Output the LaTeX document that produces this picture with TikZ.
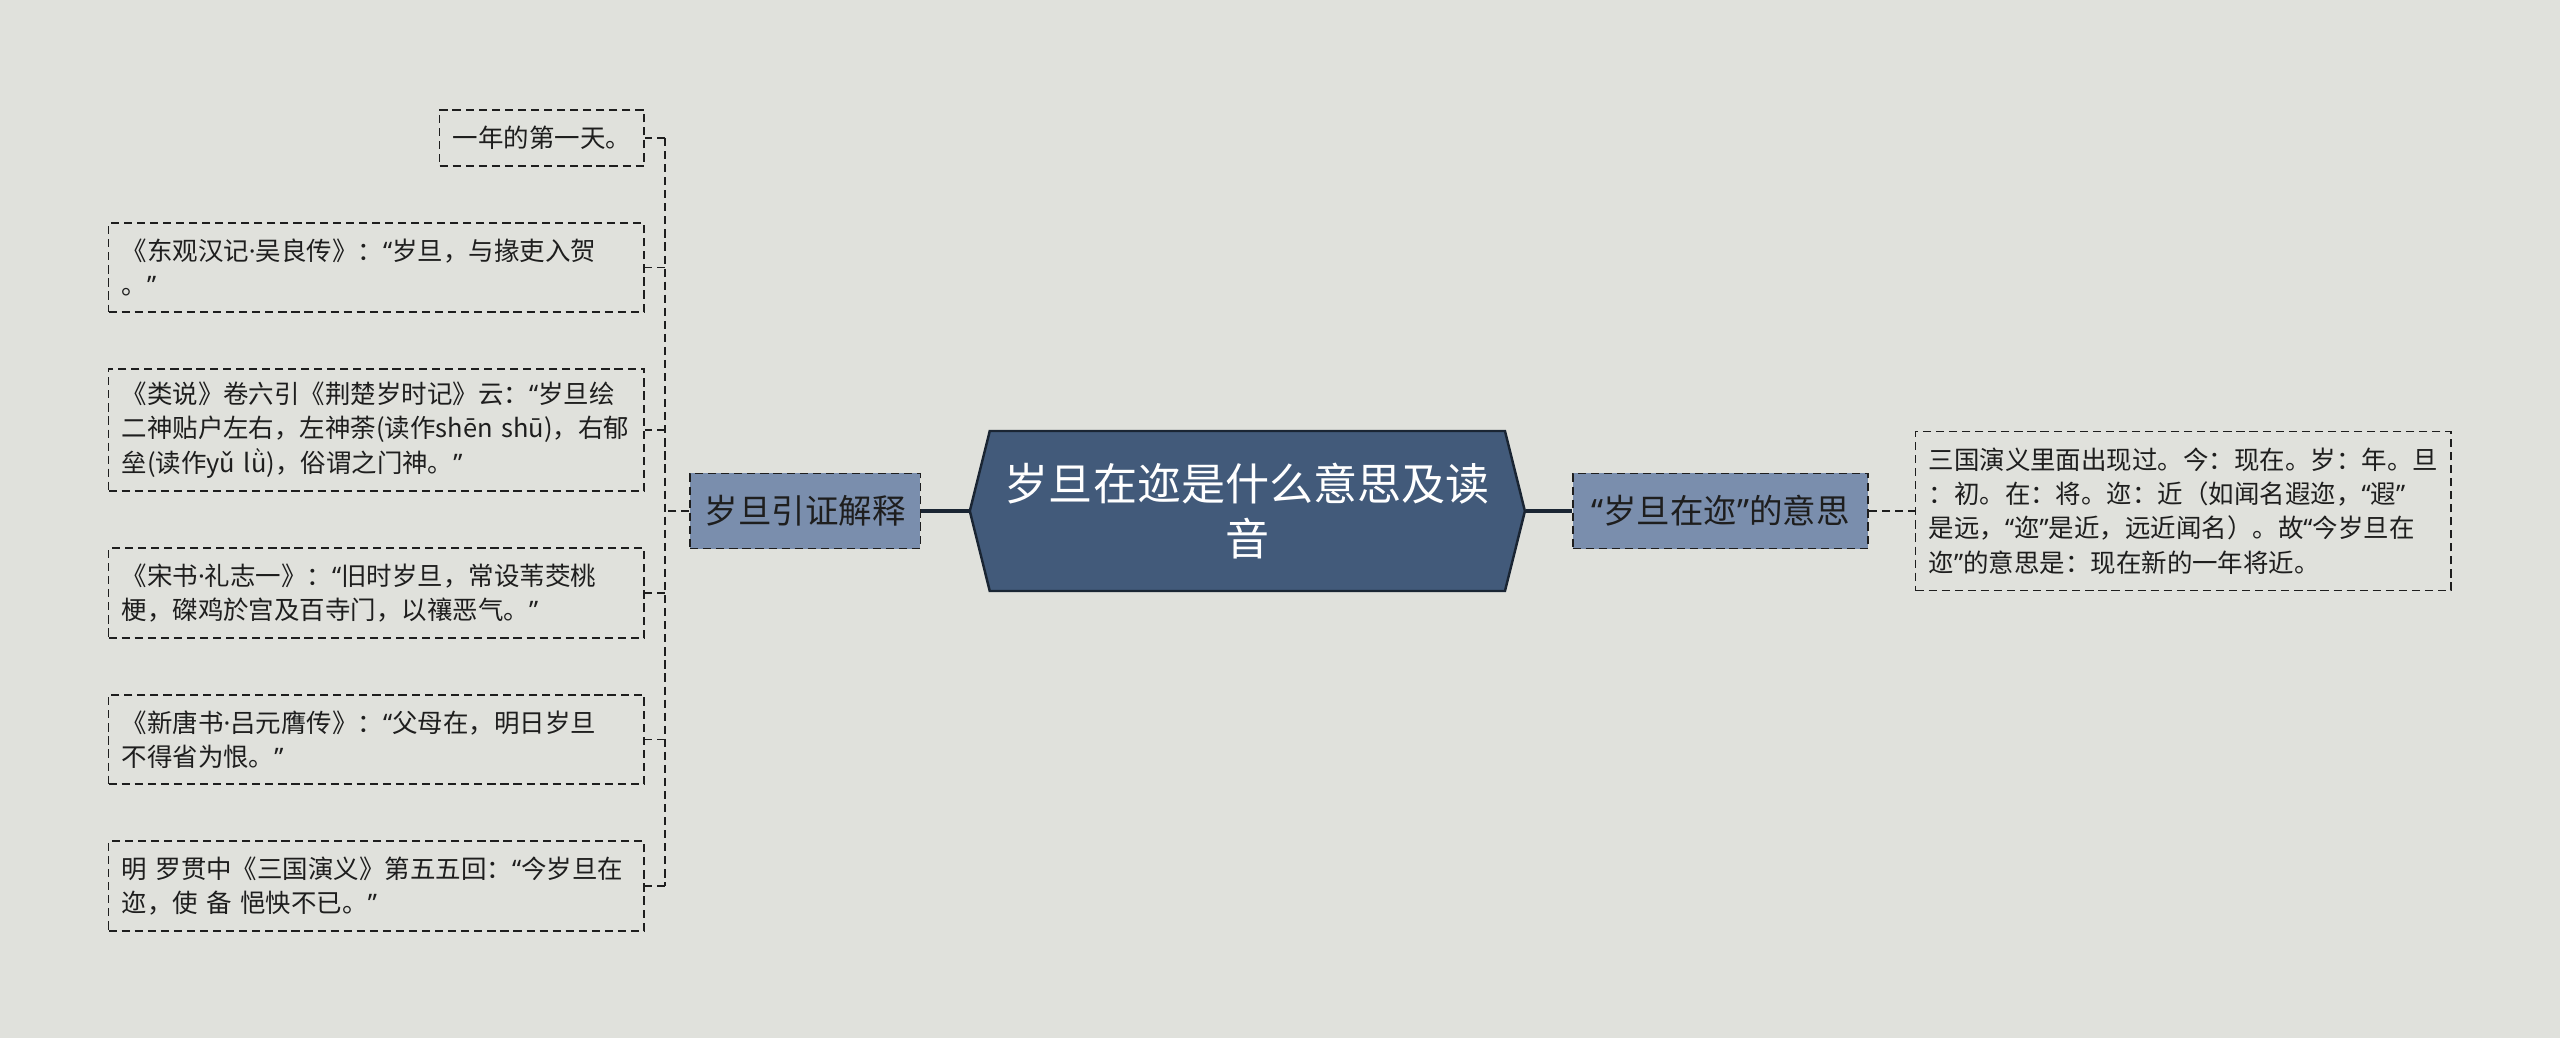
\documentclass[tikz,border=0pt]{standalone}
\usepackage{fontspec}
\setmainfont{Noto Sans CJK SC}
\newfontfamily\latinfont{Noto Sans}
\newcommand{\qo}{{\latinfont “}}
\newcommand{\qc}{{\latinfont ”}}
\newcommand{\mdot}{{\latinfont ·}}
\usepackage{xcolor}
\usetikzlibrary{positioning, shapes.symbols}

\definecolor{bgcol}{HTML}{E0E1DC}
\definecolor{rootfill}{HTML}{425A7A}
\definecolor{rootline}{HTML}{1A2533}
\definecolor{branchfill}{HTML}{7A8EAD}
\definecolor{ink}{HTML}{1E1E1E}

\begin{document}
\begin{tikzpicture}[
      x=1pt, y=-1pt,
      root/.style={signal, signal to=east and west, signal pointer angle=152, draw=rootline, line width=1.5pt, fill=rootfill, text=white, minimum width=340pt, minimum height=98pt, align=center, font=\fontsize{27}{34}\selectfont},
      branch/.style={draw=ink, line width=1pt, dash pattern=on 5pt off 3pt, fill=branchfill, text=ink, inner xsep=4pt, minimum height=46pt, font=\fontsize{20.5}{24}\selectfont},
      leaf/.style={draw=ink, line width=1pt, dash pattern=on 5pt off 3pt, text=ink, align=left, inner xsep=8pt, inner ysep=9.5pt, font=\fontsize{15.6}{21}\selectfont},
      wide/.style={text width=312pt},
      link/.style={draw=ink, line width=1pt, dash pattern=on 5pt off 3pt},
      trunk/.style={draw=rootline, line width=2.5pt}
    ]
    \useasboundingbox (0,0) rectangle (1568,635.8);
    \fill[bgcol] (0,0) rectangle (1568,635.8);

    \node[root] (root) at (764,313) {岁旦在迩是什么意思及读\\音};
    \node[branch, minimum width=141pt, left=29pt of root] (cite) {岁旦引证解释};
    \node[branch, minimum width=181pt, right=28pt of root] (meaning) {\qo 岁旦在迩\qc 的意思};
    \node[leaf, wide, inner ysep=10pt, right=28pt of meaning] (expl) {三国演义里面出现过。今：现在。岁：年。旦\\：初。在：将。迩：近（如闻名遐迩，\qo 遐\qc\\是远，\qo 迩\qc 是近，远近闻名）。故\qo 今岁旦在\\迩\qc 的意思是：现在新的一年将近。};

    \node[leaf, inner ysep=10pt, anchor=east] (firstday) at (395,84.5) {一年的第一天。};
    \node[leaf, wide, below=34pt of firstday.south east, anchor=north east] (dongguan) {《东观汉记\mdot 吴良传》：\qo 岁旦，与掾吏入贺\\。\qc};
    \node[leaf, wide, inner ysep=8pt, below=34pt of dongguan.south east, anchor=north east] (leishuo) {《类说》卷六引《荆楚岁时记》云：\qo 岁旦绘\\二神贴户左右，左神荼(读作shēn shū)，右郁\\垒(读作yǔ lǜ)，俗谓之门神。\qc};
    \node[leaf, wide, below=34pt of leishuo.south east, anchor=north east] (songshu) {《宋书\mdot 礼志一》：\qo 旧时岁旦，常设苇茭桃\\梗，磔鸡於宫及百寺门，以禳恶气。\qc};
    \node[leaf, wide, below=34pt of songshu.south east, anchor=north east] (xintang) {《新唐书\mdot 吕元膺传》：\qo 父母在，明日岁旦\\不得省为恨。\qc};
    \node[leaf, wide, below=34pt of xintang.south east, anchor=north east] (sanguo) {明 罗贯中《三国演义》第五五回：\qo 今岁旦在\\迩，使 备 悒怏不已。\qc};

    \draw[trunk] (root.west) -- (cite.east);
    \draw[trunk] (root.east) -- (meaning.west);
    \draw[link] (meaning.east) -- (expl.west);

    \coordinate[left=15pt of cite.west] (bus);
    \draw[link] (cite.west) -- (bus);
    \draw[link] (bus |- firstday.east) -- (bus |- sanguo.east);
    \foreach \leafname in {firstday, dongguan, leishuo, songshu, xintang, sanguo}
      \draw[link] (bus |- \leafname.east) -- (\leafname.east);
  \end{tikzpicture}
\end{document}
